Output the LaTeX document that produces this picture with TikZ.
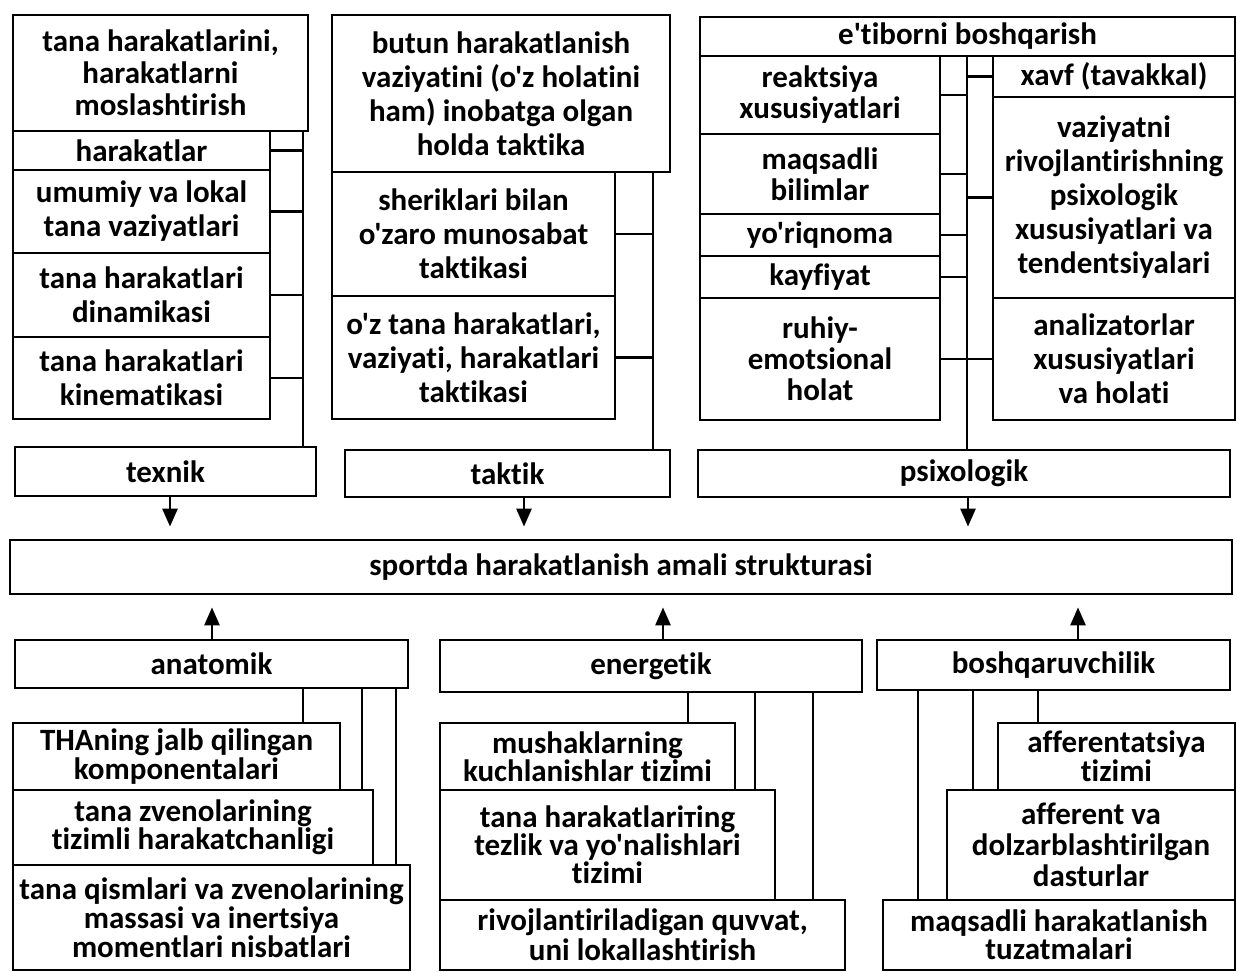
\documentclass[tikz,border=0pt]{standalone}
\usepackage{fontspec}
\setmainfont{Carlito}[Ligatures={TeXOff,NoCommon}]
\usetikzlibrary{arrows.meta}

\begin{document}
\begin{tikzpicture}[x=0.5pt,y=-0.5pt,
	blk/.style = {draw, line width=1.4pt, inner sep=0pt, align=center,
		font=\bfseries\fontsize{15.5}{17}\selectfont},
	lead/.style = {font=\bfseries\fontsize{15.5}{#1}\selectfont},
	wire/.style = {line width=1.4pt},
	arr/.style = {line width=1.4pt, -{Triangle[width=7.5pt,length=9pt]}, shorten >=6pt}]
	\useasboundingbox (0,0) rectangle (1237,972);

	% texnik
	\node[blk, lead=16, minimum width=147.5pt, minimum height=58pt] (a0) at (160.5,73) {tana harakatlarini,\\harakatlarni\\moslashtirish};
	\node[blk, minimum width=128.5pt, minimum height=19.5pt] (a1) at (141.5,150.5) {harakatlar};
	\node[blk, minimum width=128.5pt, minimum height=41.5pt] (a2) at (141.5,211.5) {umumiy va lokal\\tana vaziyatlari};
	\node[blk, minimum width=128.5pt, minimum height=42pt] (a3) at (141.5,295) {tana harakatlari\\dinamikasi};
	\node[blk, minimum width=128.5pt, minimum height=41pt] (a4) at (141.5,378) {tana harakatlari\\kinematikasi};
	\node[blk, minimum width=150.5pt, minimum height=24.5pt] (texnik) at (165.5,471.5) {texnik};

	% taktik
	\node[blk, minimum width=169pt, minimum height=78.5pt] (b0) at (501,93.5) {butun harakatlanish\\vaziyatini (o'z holatini\\ham) inobatga olgan\\holda taktika};
	\node[blk, minimum width=141.5pt, minimum height=62pt] (b1) at (473.5,234) {sheriklari bilan\\o'zaro munosabat\\taktikasi};
	\node[blk, minimum width=141.5pt, minimum height=61.5pt] (b2) at (473.5,357.5) {o'z tana harakatlari,\\vaziyati, harakatlari\\taktikasi};
	\node[blk, minimum width=162.5pt, minimum height=23.5pt] (taktik) at (507.5,473.5) {taktik};

	% psixologik
	\node[blk, minimum width=267.5pt, minimum height=19.5pt] (c0) at (967.5,36.5) {e'tiborni boshqarish};
	\node[blk, lead=15.5, minimum width=120pt, minimum height=39pt] (c1) at (820,95) {reaktsiya\\xususiyatlari};
	\node[blk, lead=15.5, minimum width=120pt, minimum height=40pt] (c2) at (820,174) {maqsadli\\bilimlar};
	\node[blk, minimum width=120pt, minimum height=21pt] (c3) at (820,235) {yo'riqnoma};
	\node[blk, minimum width=120pt, minimum height=21pt] (c4) at (820,277) {kayfiyat};
	\node[blk, lead=15.5, minimum width=120pt, minimum height=61pt] (c5) at (820,359) {ruhiy-\\emotsional\\holat};
	\node[blk, minimum width=121pt, minimum height=20.5pt] (d1) at (1114,76.5) {xavf (tavakkal)};
	\node[blk, minimum width=121pt, minimum height=100.5pt] (d2) at (1114,197.5) {vaziyatni\\rivojlantirishning\\psixologik\\xususiyatlari va\\tendentsiyalari};
	\node[blk, minimum width=121pt, minimum height=61pt] (d3) at (1114,359) {analizatorlar\\xususiyatlari\\va holati};
	\node[blk, minimum width=266pt, minimum height=23.5pt] (psix) at (964,473.5) {psixologik};

	\node[blk, minimum width=611pt, minimum height=27pt] (sport) at (621,567) {sportda harakatlanish amali strukturasi};

	\node[blk, minimum width=196.5pt, minimum height=24pt] (anat) at (211.5,664) {anatomik};
	\node[blk, minimum width=211pt, minimum height=26pt] (energ) at (651,666) {energetik};
	\node[blk, minimum width=176.5pt, minimum height=25pt] (boshq) at (1053.5,665) {boshqaruvchilik};

	% anatomik
	\node[blk, lead=13.5, minimum width=163.5pt, minimum height=33.5pt] (e1) at (176.5,756.5) {THAning jalb qilingan\\komponentalari};
	\node[blk, lead=14, minimum width=180pt, minimum height=37.5pt] (e2) at (193,827.5) {tana zvenolarining\\tizimli harakatchanligi};
	\node[blk, lead=13, minimum width=198.5pt, minimum height=52.5pt] (e3) at (211.5,917.5) {tana qismlari va zvenolarining\\massasi va inertsiya\\momentlari nisbatlari};

	% energetik
	\node[blk, lead=14, minimum width=147.5pt, minimum height=33.5pt] (f1) at (587.5,756.5) {mushaklarning\\kuchlanishlar tizimi};
	\node[blk, lead=14, minimum width=167.5pt, minimum height=55pt] (f2) at (607.5,845) {tana harakatlariтing\\tezlik va yo'nalishlari\\tizimi};
	\node[blk, lead=15, minimum width=202.5pt, minimum height=35pt] (f3) at (642.5,935) {rivojlantiriladigan quvvat,\\uni lokallashtirish};

	% boshqaruvchilik
	\node[blk, lead=12.5, minimum width=118.5pt, minimum height=33.5pt] (g1) at (1116.5,756.5) {afferentatsiya\\tizimi};
	\node[blk, lead=15.5, minimum width=144pt, minimum height=55pt] (g2) at (1091,845) {afferent va\\dolzarblashtirilgan\\dasturlar};
	\node[blk, lead=14, minimum width=176pt, minimum height=35pt] (g3) at (1059,935) {maqsadli harakatlanish\\tuzatmalari};

	% buses
	\coordinate (bus1) at (303,0);
	\coordinate (bus2) at (653,0);
	\coordinate (bus3) at (967,0);
	\draw[wire] (bus1 |- a0.south) -- (bus1 |- texnik.north);
	\draw[wire] (bus2 |- b0.south) -- (bus2 |- taktik.north);
	\draw[wire] (bus3 |- c0.south) -- (bus3 |- psix.north);
	\foreach \n in {a1,a2,a3,a4}
		\draw[wire] (\n.east) -- (\n.east -| bus1);
	\foreach \n in {b1,b2}
		\draw[wire] (\n.east) -- (\n.east -| bus2);
	\foreach \n in {c1,c2,c3,c4,c5}
		\draw[wire] (\n.east) -- (\n.east -| bus3);
	\foreach \n in {d1,d2,d3}
		\draw[wire] (\n.west) -- (\n.west -| bus3);

	% arrows to the centre
	\coordinate (p1) at (170,0);
	\coordinate (p2) at (524,0);
	\coordinate (p3) at (968,0);
	\coordinate (q1) at (212,0);
	\coordinate (q2) at (663,0);
	\coordinate (q3) at (1078,0);
	\draw[arr] (p1 |- texnik.south) -- (p1 |- sport.north);
	\draw[arr] (p2 |- taktik.south) -- (p2 |- sport.north);
	\draw[arr] (p3 |- psix.south) -- (p3 |- sport.north);
	\draw[arr] (q1 |- anat.north) -- (q1 |- sport.south);
	\draw[arr] (q2 |- energ.north) -- (q2 |- sport.south);
	\draw[arr] (q3 |- boshq.north) -- (q3 |- sport.south);

	% legs under the lower blocks
	\coordinate (e1x) at (303,0);
	\coordinate (e2x) at (362,0);
	\coordinate (e3x) at (396,0);
	\coordinate (f1x) at (688,0);
	\coordinate (f2x) at (755,0);
	\coordinate (f3x) at (813,0);
	\coordinate (g1x) at (1038,0);
	\coordinate (g2x) at (973,0);
	\coordinate (g3x) at (918,0);
	\foreach \n in {e1,e2,e3}
		\draw[wire] (\n x |- anat.south) -- (\n x |- \n.north);
	\foreach \n in {f1,f2,f3}
		\draw[wire] (\n x |- energ.south) -- (\n x |- \n.north);
	\foreach \n in {g1,g2,g3}
		\draw[wire] (\n x |- boshq.south) -- (\n x |- \n.north);
\end{tikzpicture}
\end{document}
